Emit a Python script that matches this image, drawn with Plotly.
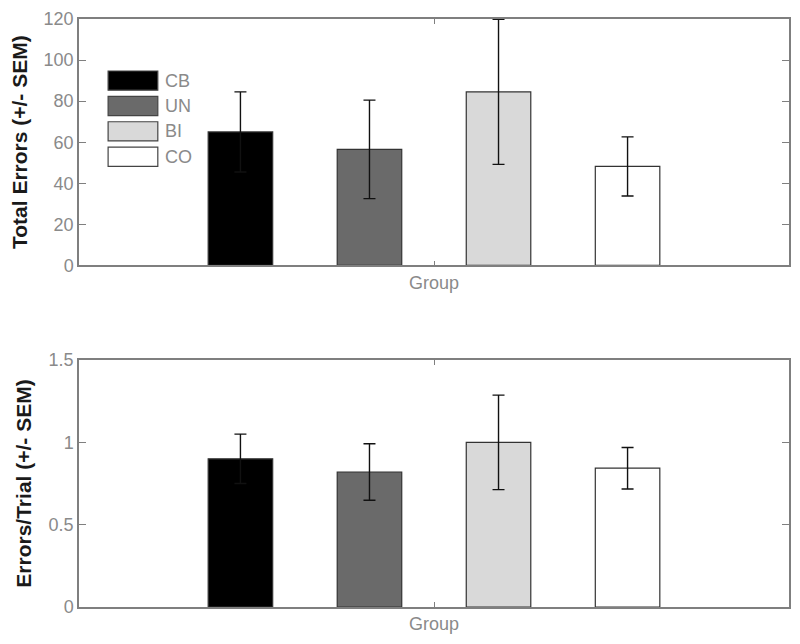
import plotly.graph_objects as go

# group data
groups = ["CB", "UN", "BI", "CO"]
colors = ["#000000", "#6a6a6a", "#d9d9d9", "#ffffff"]
total_errors = [65.0, 56.5, 84.5, 48.2]
total_sem = [19.5, 24.0, 35.3, 14.4]
per_trial = [0.90, 0.82, 1.00, 0.843]
per_trial_sem = [0.15, 0.172, 0.287, 0.126]
category = ["Group"]

fig = go.Figure()

for name, col, v, e in zip(groups, colors, total_errors, total_sem):
    fig.add_trace(go.Bar(
        x=category, y=[v], name=name, marker_color=col,
        marker_line=dict(color="#333333", width=1.2),
        error_y=dict(type="data", array=[e], color="#111111", thickness=1.4, width=6),
        xaxis="x", yaxis="y", showlegend=False,
    ))

for name, col, v, e in zip(groups, colors, per_trial, per_trial_sem):
    fig.add_trace(go.Bar(
        x=category, y=[v], name=name, marker_color=col,
        marker_line=dict(color="#333333", width=1.2),
        error_y=dict(type="data", array=[e], color="#111111", thickness=1.4, width=6),
        xaxis="x2", yaxis="y2", showlegend=False,
    ))

# hand-drawn legend box in the top panel (MATLAB style swatches)
for i, (name, col) in enumerate(zip(groups, colors)):
    top = 0.789 - i * 0.103
    fig.add_shape(type="rect", xref="x domain", yref="y domain",
                  x0=0.041, x1=0.111, y0=top - 0.078, y1=top,
                  fillcolor=col, line=dict(color="#444444", width=1.2))
    fig.add_annotation(xref="x domain", yref="y domain", x=0.118, y=top - 0.039,
                       text=name, showarrow=False, xanchor="left", yanchor="middle",
                       font=dict(size=18, color="#8a8a8a"))

tick_font = dict(family="Liberation Sans, Arial", size=18, color="#8a8a8a")
title_font = dict(family="Liberation Sans, Arial", size=21, color="#1a1a1a")

xcommon = dict(showline=True, linecolor="#7f7f7f", linewidth=1.5, mirror="ticks",
               ticks="inside", ticklen=5, tickcolor="#7f7f7f", tickfont=tick_font,
               showgrid=False, zeroline=False, range=[-0.5, 0.5], automargin=False)
ycommon = dict(showline=True, linecolor="#7f7f7f", linewidth=1.5, mirror="ticks",
               ticks="inside", ticklen=7, tickcolor="#7f7f7f", tickfont=tick_font,
               showgrid=False, zeroline=False, automargin=False)

# the page body adds an 8px offset, so the figure is 8px smaller than the window
fig.update_layout(
    width=792, height=636,
    margin=dict(l=71, r=11, t=11, b=37),
    paper_bgcolor="white", plot_bgcolor="white",
    barmode="group", bargap=0.273, bargroupgap=0.5,
    font=dict(family="Liberation Sans, Arial"),
    xaxis=dict(anchor="y", **xcommon),
    yaxis=dict(anchor="x", domain=[0.581, 1.0], range=[0, 120], dtick=20,
               title=dict(text="<b>Total Errors (+/- SEM)</b>", font=title_font, standoff=11),
               **ycommon),
    xaxis2=dict(anchor="y2", **xcommon),
    yaxis2=dict(anchor="x2", domain=[0.0, 0.420], range=[0, 1.5], dtick=0.5,
                title=dict(text="<b>Errors/Trial (+/- SEM)</b>", font=title_font, standoff=11),
                **ycommon),
)

fig.write_html("out.html")
